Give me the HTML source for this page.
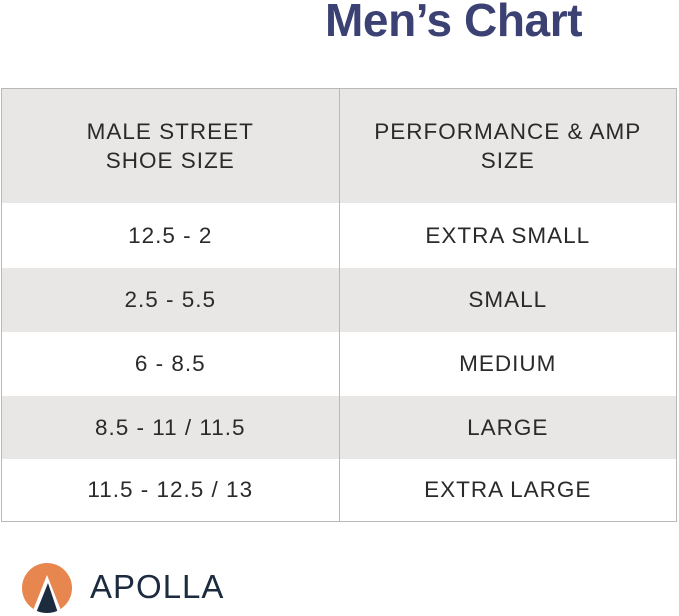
<!DOCTYPE html>
<html><head><style>
body{margin:0;width:679px;height:616px;background:#fff;position:relative;overflow:hidden;font-family:"Liberation Sans",sans-serif}
.t{position:absolute;left:325px;top:-7px;font-size:46px;font-weight:bold;color:#3b4173;white-space:nowrap;letter-spacing:-0.4px}
table{position:absolute;left:1px;top:88px;width:676px;border-collapse:collapse;border:1px solid #b8b8b8}
td{border-left:1px solid #b8b8b8;border-right:1px solid #b8b8b8;text-align:center;color:#2a2a2a;font-size:22.5px;line-height:29px;font-weight:300;letter-spacing:1px;padding:0;width:50%}
tr.g td{background:#e9e7e6}
.logo{position:absolute;left:22px;top:563px;width:50px;height:50px;border-radius:50%;background:#e8864f;overflow:hidden}
.ap{position:absolute;left:90px;top:568px;font-size:33px;color:#1c2b3e;letter-spacing:1px}
</style></head><body>
<div class="t">Men’s Chart</div>
<table>
<tr class="g" style="height:114px"><td>MALE STREET<br>SHOE SIZE</td><td>PERFORMANCE &amp; AMP<br>SIZE</td></tr>
<tr style="height:65px"><td>12.5 - 2</td><td>EXTRA SMALL</td></tr>
<tr class="g" style="height:64px"><td>2.5 - 5.5</td><td>SMALL</td></tr>
<tr style="height:64px"><td>6 - 8.5</td><td>MEDIUM</td></tr>
<tr class="g" style="height:63px"><td>8.5 - 11 / 11.5</td><td>LARGE</td></tr>
<tr style="height:63px"><td>11.5 - 12.5 / 13</td><td>EXTRA LARGE</td></tr>
</table>
<div class="logo"><svg width="50" height="50"><polygon points="25,12 40,50 10,50" fill="#fff"/><polygon points="26,20 36,50 14,50" fill="#1c2b3e"/></svg></div>
<div class="ap">APOLLA</div>
</body></html>
